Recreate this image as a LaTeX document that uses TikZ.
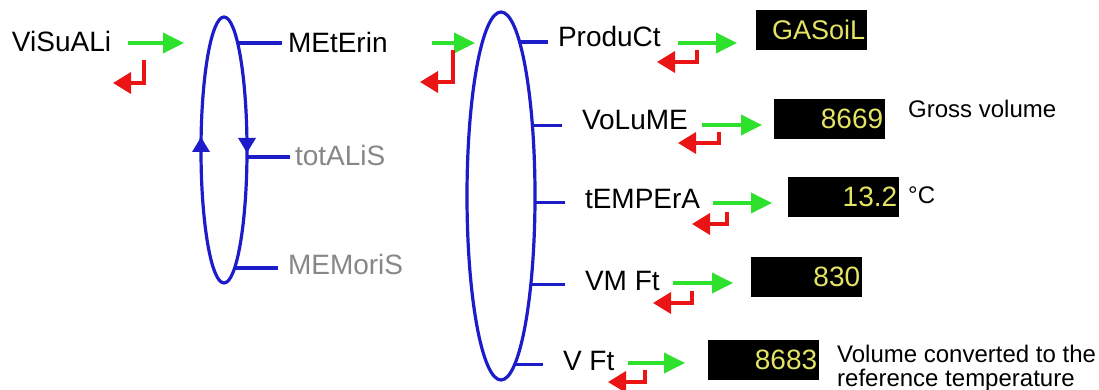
\documentclass[tikz,border=0pt]{standalone}
\usepackage{fontspec}
\setmainfont{Liberation Sans}
\usetikzlibrary{arrows.meta,shapes.geometric}
\definecolor{menublue}{RGB}{28,28,200}
\definecolor{arrgreen}{RGB}{45,225,45}
\definecolor{arrred}{RGB}{235,20,20}
\definecolor{dispyellow}{RGB}{228,228,100}
\definecolor{menugrey}{RGB}{135,135,135}
\tikzset{
 lbl/.style={inner sep=0pt, outer sep=0pt, anchor=base west, font=\fontsize{28}{32}\selectfont},
 glbl/.style={lbl, text=menugrey},
 note/.style={inner sep=0pt, anchor=base west, font=\fontsize{24}{28}\selectfont},
 menuloop/.style={ellipse, draw=menublue, line width=3.2pt, fill=white, inner sep=0pt, outer sep=0pt},
 conn/.style={draw=menublue, line width=3.2pt},
 loopmark/.style={draw=menublue, line width=3.2pt, -{Triangle[length=15pt,width=17pt]}},
 garr/.style={draw=arrgreen, line width=3.6pt, -{Triangle[length=21pt,width=20pt]}},
 rarr/.style={draw=arrred, line width=3.6pt, line join=miter, -{Triangle[length=18pt,width=21pt]}},
 dispbox/.style={fill=black, minimum width=111pt, minimum height=40pt, text width=107pt, align=right, inner xsep=2pt, inner ysep=0pt, text=dispyellow, font=\fontsize{28}{32}\selectfont, anchor=north west},
}
\begin{document}
\begin{tikzpicture}[x=1pt,y=-1pt]
\useasboundingbox (0,0) rectangle (1099,390);
\coordinate (c1) at (224,150);
\coordinate (c2) at (501,196);
% labels
\node[lbl] (vis) at (12,52) {ViSuALi};
\node[lbl] (met) at (288,53) {MEtErin};
\node[glbl] (tot) at (295,165) {totALiS};
\node[glbl] (mem) at (288,274) {MEMoriS};
\node[lbl] (prod) at (558,47) {ProduCt};
\node[lbl] (vol) at (582,130) {VoLuME};
\node[lbl] (tem) at (585,208) {tEMPErA};
\node[lbl] (vmft) at (585,290) {VM Ft};
\node[lbl] (vft) at (563,370) {V Ft};
% connectors from the loops to the labels
\draw[conn] ([shift={(-6,0)}]met.west) -- (met.west -| c1);
\draw[conn] ([shift={(-5,2)}]tot.west) -- ([shift={(0,2)}]tot.west -| c1);
\draw[conn] ([shift={(-10,4)}]mem.west) -- ([shift={(0,4)}]mem.west -| c1);
\draw[conn] ([shift={(-10,5)}]prod.west) -- ([shift={(0,5)}]prod.west -| c2);
\draw[conn] ([shift={(-20,5)}]vol.west) -- ([shift={(0,5)}]vol.west -| c2);
\draw[conn] ([shift={(-20,4)}]tem.west) -- ([shift={(0,4)}]tem.west -| c2);
\draw[conn] ([shift={(-20,4)}]vmft.west) -- ([shift={(0,4)}]vmft.west -| c2);
\draw[conn] ([shift={(-20,4)}]vft.west) -- ([shift={(0,4)}]vft.west -| c2);
% loops
\node[menuloop, minimum width=46pt, minimum height=266pt] (e1) at (c1) {};
\node[menuloop, minimum width=68pt, minimum height=368pt] (e2) at (c2) {};
\draw[loopmark] ([shift={(0,2)}]e1.west) -- ([shift={(0,-13)}]e1.west);
\draw[loopmark] ([shift={(0,-12)}]e1.east) -- ([shift={(0,3)}]e1.east);
% displays
\node[dispbox, font=\fontsize{27}{32}\selectfont] (b1) at (756,10) {GASoiL};
\node[dispbox] (b2) at (774,99) {8669};
\node[dispbox] (b3) at (788,177) {13.2};
\node[dispbox] (b4) at (751,257) {830};
\node[dispbox] (b5) at (708,340) {8683};
% notes
\node[note] (gross) at (908,118) {Gross volume};
\node[note] (degc) at (908,203) {°C};
\node[note] (conv1) at (837,362) {Volume converted to the};
\node[note] (conv2) at (837,386) {reference temperature};
% green (enter) arrows
\draw[garr] ([shift={(116,-9)}]vis.base west) -- ++(56,0);
\draw[garr] ([shift={(144,-10)}]met.base west) -- ++(43,0);
\draw[garr] ([shift={(120,-4)}]prod.base west) -- ++(59,0);
\draw[garr] ([shift={(120,-5)}]vol.base west) -- ++(60,0);
\draw[garr] ([shift={(128,-5)}]tem.base west) -- ++(59,0);
\draw[garr] ([shift={(88,-7)}]vmft.base west) -- ++(60,0);
\draw[garr] ([shift={(65,-7)}]vft.base west) -- ++(57,0);
% red (escape) arrows
\draw[rarr] ([shift={(132,8)}]vis.base west) -- ++(0,23) -- ++(-31,0);
\draw[rarr] ([shift={(165,-3)}]met.base west) -- ++(0,32) -- ++(-33,0);
\draw[rarr] ([shift={(139,3)}]prod.base west) -- ++(0,12) -- ++(-40,0);
\draw[rarr] ([shift={(137,2)}]vol.base west) -- ++(0,11) -- ++(-41,0);
\draw[rarr] ([shift={(142,4)}]tem.base west) -- ++(0,12) -- ++(-35,0);
\draw[rarr] ([shift={(107,1)}]vmft.base west) -- ++(0,12) -- ++(-39,0);
\draw[rarr] ([shift={(82,0)}]vft.base west) -- ++(0,12) -- ++(-37,0);
\end{tikzpicture}
\end{document}
